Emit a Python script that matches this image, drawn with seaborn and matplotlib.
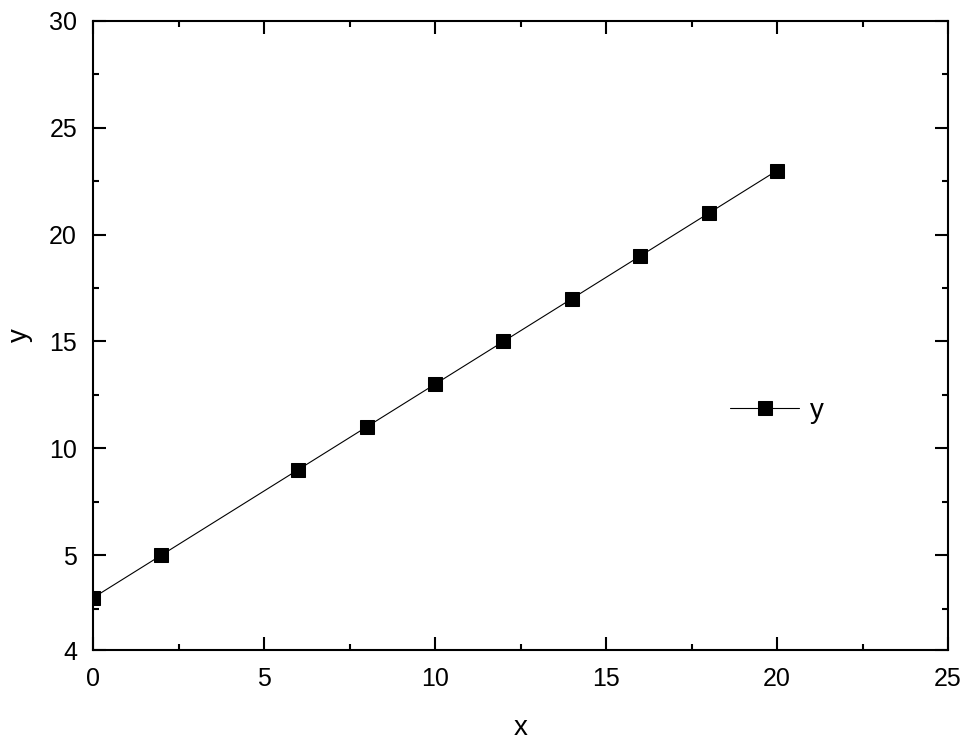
import matplotlib
matplotlib.use("Agg")
import matplotlib.pyplot as plt
import seaborn as sns
import pandas as pd

# data
x_vals = [0, 2, 6, 8, 10, 12, 14, 16, 18, 20]
y_vals = [3, 5, 9, 11, 13, 15, 17, 19, 21, 23]

y_bottom = 0.56
y_tick_pos = [y_bottom, 5, 10, 15, 20, 25, 30]
y_tick_labels = ["4", "5", "10", "15", "20", "25", "30"]
x_tick_pos = [0, 5, 10, 15, 20, 25]

df = pd.DataFrame({"x": x_vals, "y": y_vals})

sns.set_style("ticks")
plt.rcParams["font.family"] = ["Liberation Sans", "DejaVu Sans"]
plt.rcParams["text.color"] = "black"
plt.rcParams["axes.labelcolor"] = "black"

fig = plt.figure(figsize=(9.63, 7.41), dpi=100)
ax = fig.add_axes([93 / 963, 1 - 650 / 741, (948 - 93) / 963, (650 - 21) / 741])

sns.lineplot(data=df, x="x", y="y", ax=ax, color="black", linewidth=0.8,
             marker="s", markersize=10, markeredgecolor="black", label="y")

ax.set_xlim(0, 25)
ax.set_ylim(y_bottom, 30)
ax.set_xticks(x_tick_pos)
ax.set_yticks(y_tick_pos)
ax.set_yticklabels(y_tick_labels)
ax.set_xticks([2.5, 7.5, 12.5, 17.5, 22.5], minor=True)
ax.set_yticks([2.5, 7.5, 12.5, 17.5, 22.5, 27.5], minor=True)

ax.tick_params(which="both", direction="in", top=True, right=True, width=1.5,
               labelsize=18, color="black", labelcolor="black")
ax.tick_params(axis="x", which="major", length=9.5, pad=12)
ax.tick_params(axis="y", which="major", length=9.5, pad=11.5)
ax.tick_params(which="minor", length=4.5)
for s in ax.spines.values():
    s.set_linewidth(1.5)
    s.set_color("black")

ax.set_xlabel("x", fontsize=20)
ax.set_ylabel("y", fontsize=20)
ax.xaxis.set_label_coords(0.5, -0.104)
ax.yaxis.set_label_coords(-0.070, 0.5)

leg = ax.legend(loc="center", bbox_to_anchor=(0.8, 0.38), frameon=False,
                fontsize=20, handlelength=2.45, handletextpad=0.4)

fig.savefig("out.png", dpi=100)
